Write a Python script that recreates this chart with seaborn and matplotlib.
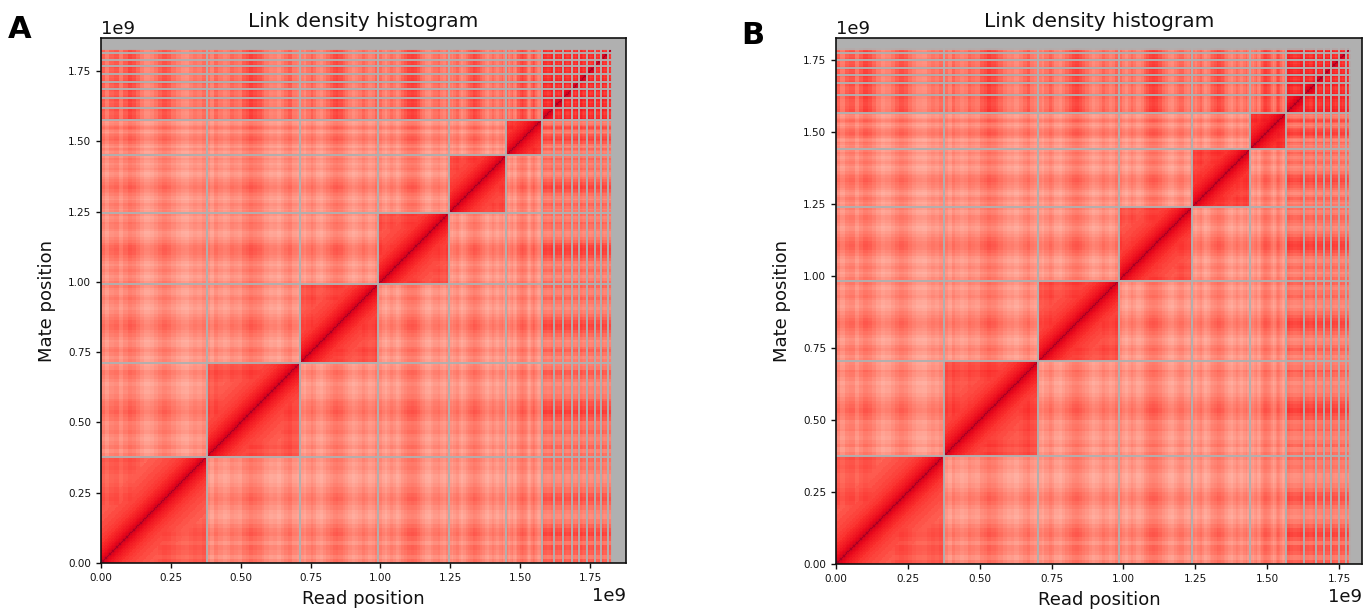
import numpy as np
import matplotlib
matplotlib.use("Agg")
import matplotlib.pyplot as plt
from matplotlib.ticker import MultipleLocator, ScalarFormatter
from matplotlib.transforms import Affine2D
import seaborn as sns

TITLE = "Link density histogram"
XLABEL = "Read position"
YLABEL = "Mate position"

# chromosome ends, in units of 1e9 bp
ends_a = [0.378, 0.713, 0.992, 1.245, 1.450, 1.577, 1.620, 1.653, 1.686, 1.712, 1.740, 1.768, 1.790, 1.814, 1.830]
ends_b = [0.376, 0.704, 0.983, 1.240, 1.440, 1.566, 1.628, 1.670, 1.698, 1.722, 1.750, 1.775, 1.789]

# colour level far from the diagonal inside each large chromosome's own block
intra_a = [0.55, 0.58, 0.60, 0.60, 0.62, 0.66]
intra_b = [0.56, 0.60, 0.60, 0.60, 0.64, 0.68]

# colour level next to the diagonal by separation (Mb upper edge -> level)
sep_edges = [5, 10, 15, 20, 25, 30, 40, 50, 60, 70, 85, 100, 120, 145, 170, 200]
sep_levels = [1.0, 0.90, 0.86, 0.84, 0.82, 0.80, 0.77, 0.74, 0.71, 0.68, 0.65, 0.63, 0.61, 0.59, 0.57, 0.55]

# levels of blocks between chromosomes
level_big_big = 0.40
level_big_small = 0.49
level_small_small = 0.66

# deviations along each large chromosome, read from light and dark stripes
prof_1 = [.03, -.03, .03, .05, -.02, .04, .08, .06, .02, -.03, -.07, -.05, -.01, .03, .06, .04, .00, -.04, -.07, -.08, -.04, -.01, -.03, .01]
prof_2 = [.00, -.05, .02, -.02, -.05, -.03, .02, .00, -.02, .04, .06, .09, .07, .05, .02, -.02, -.05, -.04, -.07, -.03, .01, .04, -.02, -.04]
prof_3 = [-.03, -.06, -.01, .03, .00, -.05, -.07, -.03, .01, .04, .07, .08, .06, .03, .00, -.04, -.07, -.05, -.02, .02, -.01, -.05, -.03, .02]
prof_4 = [.01, -.04, -.07, -.03, .01, -.02, -.06, -.03, .02, .05, .08, .09, .08, .05, .01, -.02, -.06, -.07, -.03, .00, .02, -.03, -.05, .00]
prof_5 = [-.02, -.05, -.01, .02, -.03, -.07, -.04, .00, .03, .05, .08, .07, .05, .02, -.01, -.05, -.07, -.03, .01, -.02, -.05, -.01, .02, -.03]
prof_6 = [.02, -.03, -.05, -.01, .02, -.04, -.06, -.02, .04, .07, .09, .07, .06, .04, .00, -.05, -.02, .03, .07, .05, .01, -.03, -.05, -.02]
prof_big = [prof_1, prof_2, prof_3, prof_4, prof_5, prof_6]
# deviations along each small chromosome
prof_small = [.05, .01, -.02, .00, .05]

BIN = 5  # Mb per cell

palette = ["#ffece6", "#ffc4b8", "#ff9a8a", "#ff6e5e", "#fb2f2c", "#e8061a", "#a80024"]
cmap = sns.blend_palette(palette, as_cmap=True)


def build_matrix(ends, intra):
    ends_mb = np.array(ends) * 1000
    n = int(round(ends_mb[-1] / BIN))
    centres = (np.arange(n) + 0.5) * BIN
    chrom = np.searchsorted(ends_mb, centres)
    starts = np.concatenate([[0], ends_mb[:-1]])
    frac = (centres - starts[chrom]) / (ends_mb[chrom] - starts[chrom])
    dev = np.zeros(n)
    for i in range(n):
        c = chrom[i]
        table = prof_big[c] if c < len(prof_big) else prof_small
        dev[i] = table[min(int(frac[i] * len(table)), len(table) - 1)]
    is_big = chrom < len(prof_big)
    mat = np.zeros((n, n))
    for i in range(n):
        for j in range(n):
            bi, bj = is_big[i], is_big[j]
            if chrom[i] == chrom[j]:
                sep = abs(i - j) * BIN
                k = np.searchsorted(sep_edges, sep, side="right")
                far = intra[chrom[i]] if bi else 0.72
                near = sep_levels[k] if k < len(sep_levels) else 0
                mat[i, j] = max(far + 0.5 * (dev[i] + dev[j]), near)
            elif bi and bj:
                mat[i, j] = level_big_big + dev[i] + dev[j]
            elif bi or bj:
                mat[i, j] = level_big_small + 1.5 * (dev[i] if bi else dev[j]) + 0.5 * (dev[j] if bi else dev[i])
            else:
                mat[i, j] = level_small_small + dev[i] + dev[j]
    return mat


sns.set_style("ticks")
plt.rcParams["font.family"] = ["DejaVu Sans"]
plt.rcParams["axes.edgecolor"] = "#111111"

fig = plt.figure(figsize=(13.68, 6.13), dpi=100)
W, H = 1368.0, 613.0


def panel(rect, ends, intra, xmax, ymax, letter, letter_xy):
    l, t, r, b = rect
    ax = fig.add_axes([l / W, 1 - b / H, (r - l) / W, (b - t) / H])
    ax.set_facecolor("#b0b0b0")
    mat = build_matrix(ends, intra)
    sns.heatmap(mat, ax=ax, cmap=cmap, vmin=0, vmax=1, cbar=False,
                xticklabels=False, yticklabels=False, square=False)
    mesh = ax.collections[0]
    mesh.set_transform(Affine2D().scale(BIN * 1e6, BIN * 1e6) + ax.transData)
    for e in ends:
        ax.axvline(e * 1e9, color="#b0b0b0", lw=1.35)
        ax.axhline(e * 1e9, color="#b0b0b0", lw=1.35)
    ax.set_xlim(0, xmax * 1e9)
    ax.set_ylim(0, ymax * 1e9)
    for axis in (ax.xaxis, ax.yaxis):
        axis.set_major_locator(MultipleLocator(0.25e9))
        fmt = ScalarFormatter()
        axis.set_major_formatter(fmt)
        axis.get_offset_text().set_fontsize(13)
    ax.tick_params(axis="both", labelsize=7.5, length=3.5, width=1, labelrotation=0,
                   bottom=True, left=True, colors="#111111")
    ax.set_title(TITLE, fontsize=14.5, pad=8, color="#111111")
    ax.set_xlabel(XLABEL, fontsize=13, labelpad=5, color="#111111")
    ax.set_ylabel(YLABEL, fontsize=13, labelpad=9, color="#111111")
    for s in ax.spines.values():
        s.set_visible(True)
        s.set_linewidth(1.2)
    fig.text(letter_xy[0] / W, 1 - letter_xy[1] / H, letter, fontsize=22, fontweight="bold",
             color="black", ha="left", va="baseline")
    return ax


panel((101, 38, 626, 563), ends_a, intra_a, 1.879, 1.868, "A", (8, 38))
panel((836, 38, 1362, 564), ends_b, intra_b, 1.830, 1.826, "B", (741, 44))

fig.savefig("out.png", dpi=100)
